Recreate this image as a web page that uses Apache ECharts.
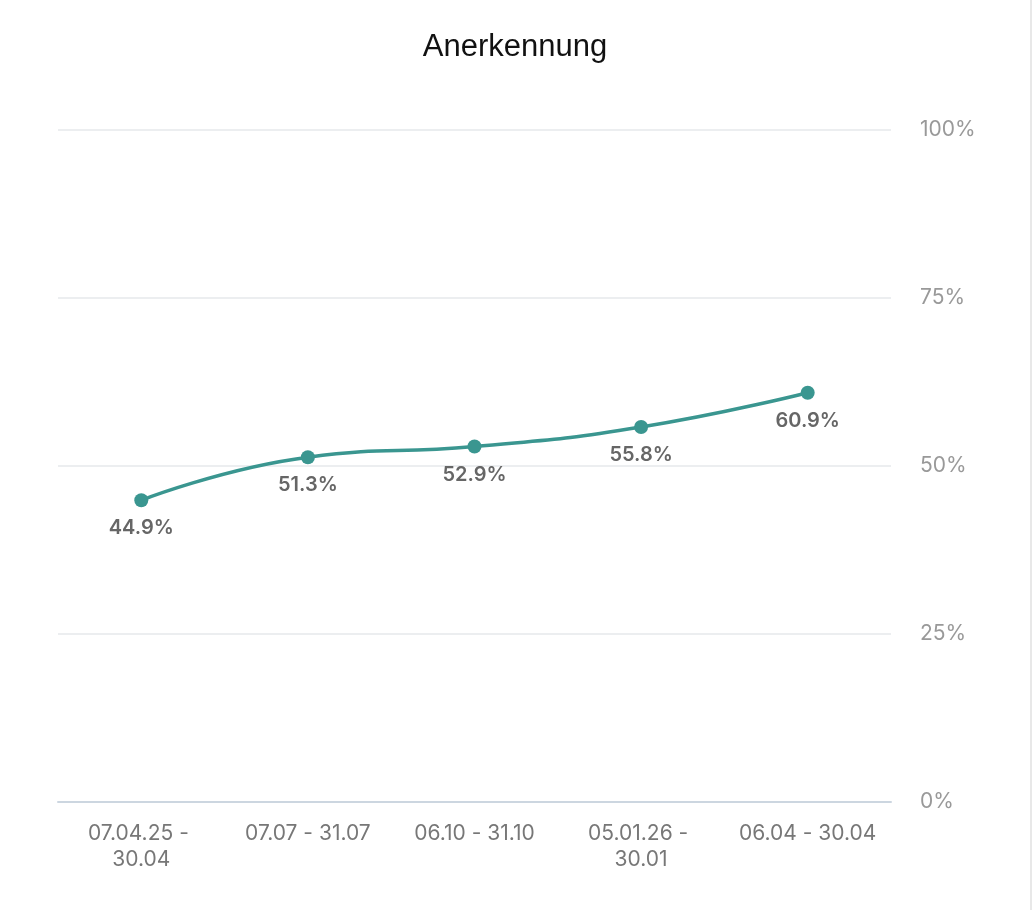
<!DOCTYPE html>
<html>
<head>
<meta charset="utf-8">
<script src="https://cdn.jsdelivr.net/npm/echarts@6/dist/echarts.min.js"></script>
<style>
    html, body { margin: 0; padding: 0; background: #fff; }
    #chart { width: 1032px; height: 910px; box-sizing: border-box; border-right: 2px solid #e8e8e8; }
</style>
</head>
<body>
<div id="chart"></div>
<script>
"use strict";
// Zeiträume (x-Achse)
var categories = ['07.04.25 - 30.04', '07.07 - 31.07', '06.10 - 31.10', '05.01.26 - 30.01', '06.04 - 30.04'];
// Anerkennung in %
var values = [44.9, 51.3, 52.9, 55.8, 60.9];
var yTicks = [0, 25, 50, 75, 100];

var myChart = echarts.init(document.getElementById('chart'));

var option = {
    textStyle: { fontFamily: 'Inter, "Noto Sans", sans-serif' },
    title: {
        text: 'Anerkennung',
        left: 'center',
        top: 27,
        textStyle: {
            fontFamily: 'Helvetica, Arial, "Liberation Sans", sans-serif',
            fontSize: 31,
            fontWeight: 'normal',
            color: '#111'
        }
    },
    grid: { left: 58, right: 139, top: 130, bottom: 108 },
    xAxis: {
        type: 'category',
        data: categories,
        boundaryGap: true,
        axisTick: { show: false },
        axisLine: { lineStyle: { color: '#ccd6e0', width: 2 } },
        axisLabel: {
            color: '#777',
            fontSize: 21,
            margin: 19,
            lineHeight: 26,
            width: 150,
            overflow: 'break',
            interval: 0
        }
    },
    yAxis: {
        type: 'value',
        position: 'right',
        min: yTicks[0],
        max: yTicks[yTicks.length - 1],
        interval: 25,
        axisLine: { show: false },
        axisTick: { show: false },
        splitLine: { lineStyle: { color: '#e6e8eb', width: 1.5 } },
        axisLabel: {
            color: '#999',
            fontSize: 21,
            margin: 29,
            formatter: '{value}%'
        }
    },
    series: [{
        type: 'line',
        data: values,
        smooth: true,
        symbol: 'circle',
        symbolSize: 14,
        itemStyle: { color: '#3a9690' },
        lineStyle: { color: '#3a9690', width: 3.5 },
        label: {
            show: true,
            position: 'bottom',
            distance: 11,
            color: '#666',
            fontSize: 20,
            fontWeight: 600,
            formatter: function (p) { return p.value.toFixed(1) + '%'; }
        }
    }]
};

myChart.setOption(option);
</script>
</body>
</html>
